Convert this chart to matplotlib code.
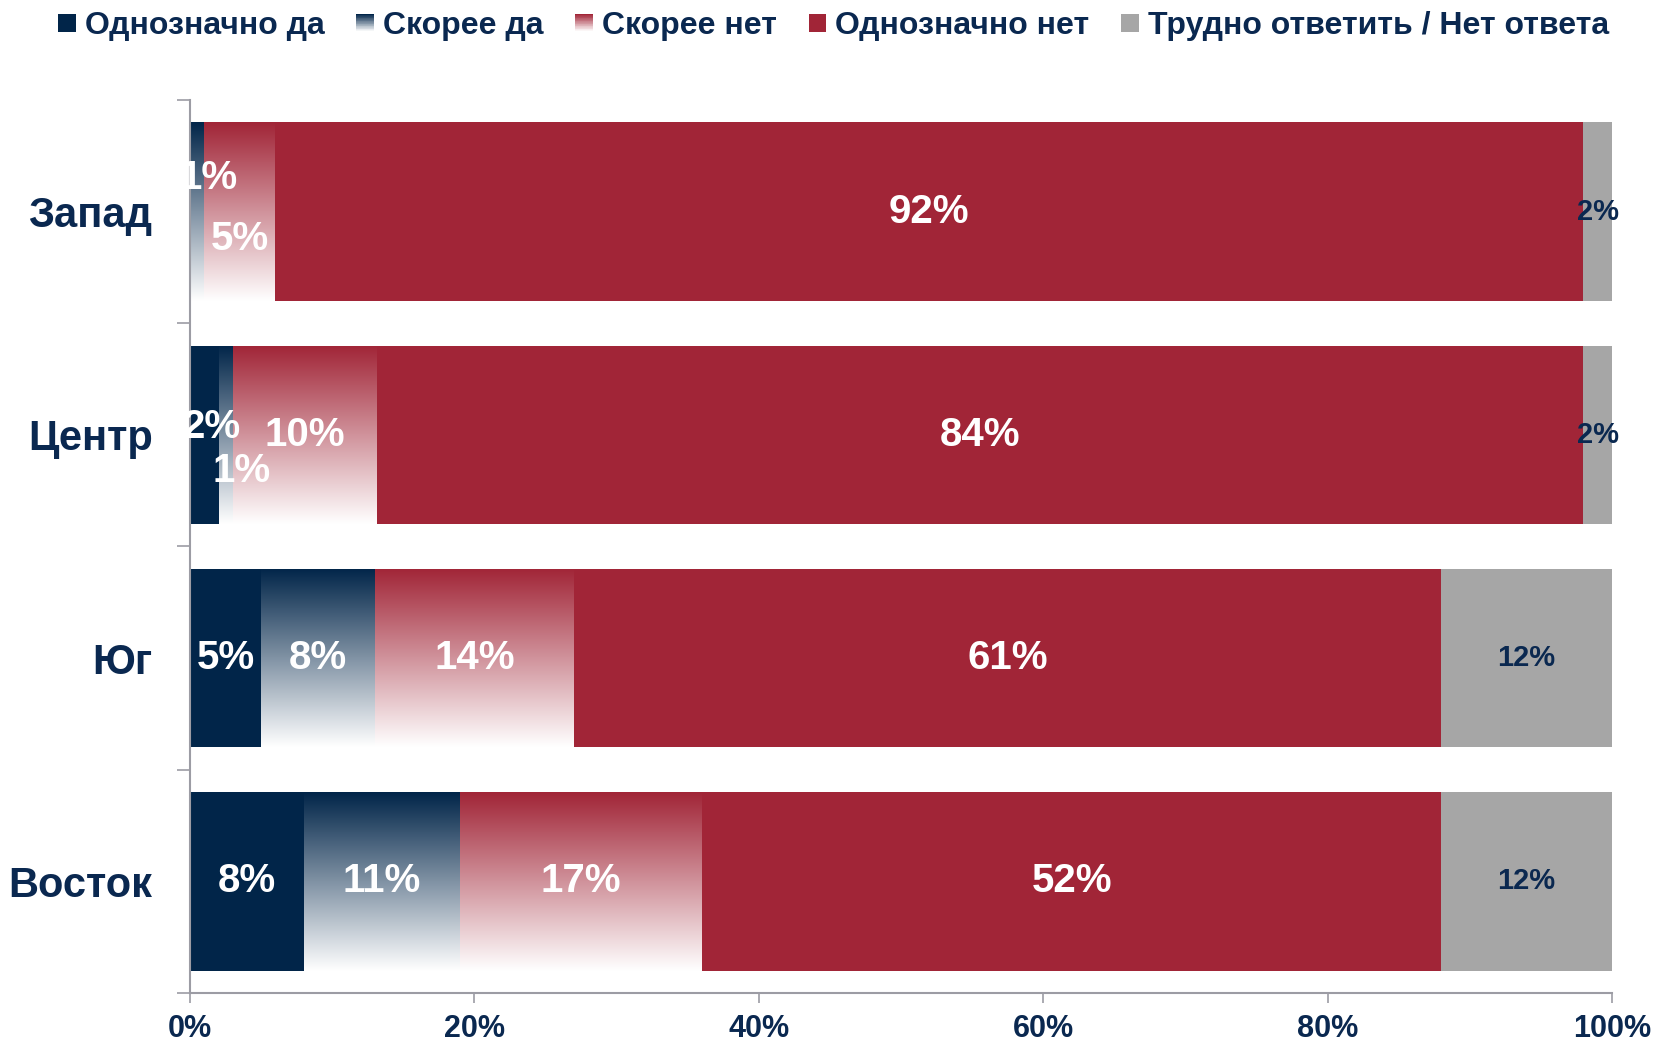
import matplotlib
matplotlib.use('Agg')
import matplotlib.pyplot as plt
from matplotlib import font_manager
from matplotlib.colors import LinearSegmentedColormap
from matplotlib.legend_handler import HandlerBase
from matplotlib.patches import Rectangle
import numpy as np

# ---------------- data ----------------
categories = ['Запад', 'Центр', 'Юг', 'Восток']
series_names = ['Однозначно да', 'Скорее да', 'Скорее нет', 'Однозначно нет',
                'Трудно ответить / Нет ответа']
definitely_yes = [0, 2, 5, 8]
rather_yes = [1, 1, 8, 11]
rather_no = [5, 10, 14, 17]
definitely_no = [92, 84, 61, 52]
hard_to_say = [2, 2, 12, 12]
x_ticks = [0, 20, 40, 60, 80, 100]
x_tick_labels = ['0%', '20%', '40%', '60%', '80%', '100%']

# ---------------- style ----------------
names = {f.name for f in font_manager.fontManager.ttflist}
FONT = 'Liberation Sans' if 'Liberation Sans' in names else 'DejaVu Sans'
plt.rcParams['font.family'] = [FONT, 'DejaVu Sans']

NAVY = '#012549'
RED = '#A12537'
GREY = '#A6A6A6'
TEXT = '#0A2850'
AXIS = '#9C9CA4'

series_values = [definitely_yes, rather_yes, rather_no, definitely_no, hard_to_say]
series_style = [('solid', NAVY), ('grad', NAVY), ('grad', RED), ('solid', RED), ('solid', GREY)]
label_colors = ['white', 'white', 'white', 'white', TEXT]
label_sizes = [29, 29, 29, 29, 21]
# manual label nudges (points) to mimic overlap avoidance: (row, series) -> (dx, dy)
label_nudges = {(0, 1): (8, 24), (0, 2): (0, -20), (1, 0): (5, 6), (1, 1): (11, -26)}

fig = plt.figure(figsize=(16.57, 10.47), dpi=100)
ax = fig.add_axes([0.1147, 0.0516, 0.8581, 0.8529])

vals = np.array(series_values, dtype=float)
totals = vals.sum(axis=0)
pct = vals / totals * 100
y = np.arange(len(categories))
left = np.zeros(len(categories))
bar_h = 0.8


def gradient_cmap(c):
    return LinearSegmentedColormap.from_list('g', [c, '#FFFFFF'])


grad = np.linspace(0, 1, 256).reshape(-1, 1)

for si, (kind, col) in enumerate(series_style):
    if kind == 'solid':
        bars = ax.barh(y, pct[si], left=left, height=bar_h, color=col, linewidth=0)
    else:
        bars = ax.barh(y, pct[si], left=left, height=bar_h, color='none', linewidth=0)
        cmap = gradient_cmap(col)
        for b in bars:
            if b.get_width() <= 0:
                continue
            x0, y0, w, h = b.get_x(), b.get_y(), b.get_width(), b.get_height()
            im = ax.imshow(grad, cmap=cmap, vmin=0, vmax=1, aspect='auto',
                           extent=(x0, x0 + w, y0 + h, y0), origin='upper',
                           interpolation='bilinear', zorder=1)
            im.set_clip_path(b)
    for ri, b in enumerate(bars):
        v = series_values[si][ri]
        if v <= 0:
            continue
        cx = b.get_x() + b.get_width() / 2
        cy = b.get_y() + b.get_height() / 2
        dx, dy = label_nudges.get((ri, si), (0, 0))
        ax.annotate(f'{v}%', (cx, cy), xytext=(dx, dy), textcoords='offset points',
                    ha='center', va='center', color=label_colors[si],
                    fontsize=label_sizes[si], fontweight='bold', zorder=5)
    left = left + pct[si]

ax.set_xlim(0, 100)
ax.set_ylim(len(categories) - 0.5, -0.5)

ax.set_xticks(x_ticks)
ax.set_xticklabels(x_tick_labels)
ax.set_yticks(y)
ax.set_yticklabels(categories)
ax.set_yticks(np.arange(-0.5, len(categories), 1), minor=True)

for lab in ax.get_xticklabels():
    lab.set_fontweight('bold')
    lab.set_color(TEXT)
    lab.set_fontsize(22)
for lab in ax.get_yticklabels():
    lab.set_fontweight('bold')
    lab.set_color(TEXT)
    lab.set_fontsize(30)

ax.tick_params(axis='x', which='major', direction='out', length=7, width=1.2,
               color=AXIS, pad=8)
ax.tick_params(axis='y', which='major', length=0, pad=27)
ax.tick_params(axis='y', which='minor', direction='out', length=9.5, width=1.2,
               color=AXIS)

for s in ['top', 'right']:
    ax.spines[s].set_visible(False)
for s in ['left', 'bottom']:
    ax.spines[s].set_color(AXIS)
    ax.spines[s].set_linewidth(1.5)


# ---------------- legend ----------------
class GradHandler(HandlerBase):
    def __init__(self, color, gradient):
        super().__init__()
        self.color = color
        self.gradient = gradient

    def create_artists(self, legend, orig_handle, xdescent, ydescent, width, height,
                       fontsize, trans):
        size = min(width, height) * 1.0
        x0 = -xdescent + (width - size) / 2
        y0 = -ydescent + (height - size) / 2
        if not self.gradient:
            return [Rectangle((x0, y0), size, size, facecolor=self.color,
                              edgecolor='none', transform=trans)]
        cmap = gradient_cmap(self.color)
        n = 24
        arts = []
        for i in range(n):
            frac = i / (n - 1)
            yy = y0 + size - (i + 1) * size / n
            arts.append(Rectangle((x0, yy), size, size / n + 0.05,
                                  facecolor=cmap(frac), edgecolor='none',
                                  transform=trans))
        return arts


handles = [Rectangle((0, 0), 1, 1) for _ in series_names]
handler_map = {h: GradHandler(c, k == 'grad') for h, (k, c) in zip(handles, series_style)}
leg = fig.legend(handles, series_names, handler_map=handler_map, loc='center',
                 bbox_to_anchor=(0.503, 0.975), ncol=5, frameon=False,
                 prop={'weight': 'bold', 'size': 23}, handlelength=0.55,
                 handleheight=0.55, handletextpad=0.28, columnspacing=1.0)
for t in leg.get_texts():
    t.set_color(TEXT)

fig.savefig('out.png', dpi=100)
